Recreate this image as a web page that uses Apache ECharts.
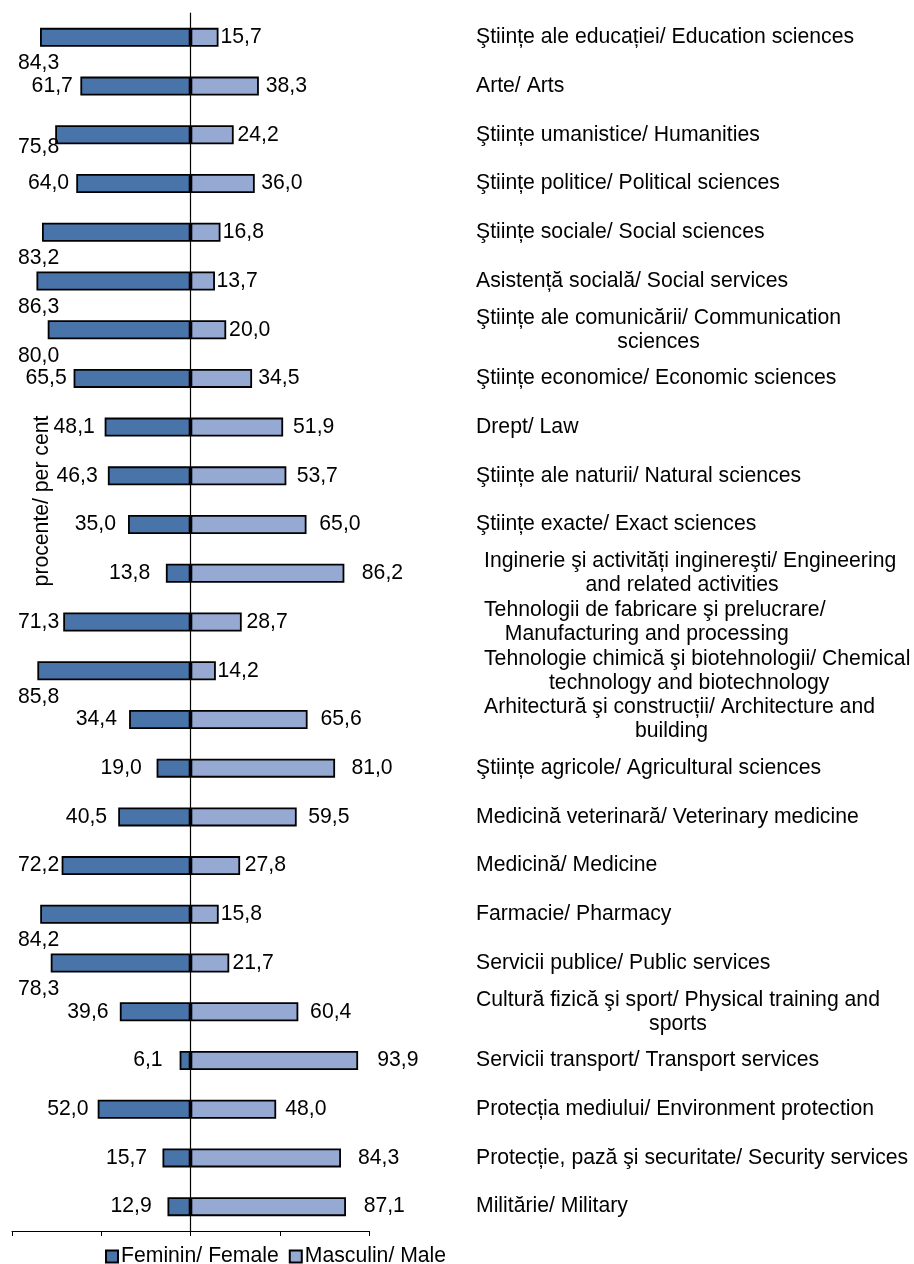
<!DOCTYPE html>
<html><head><meta charset="utf-8">
<script src="https://cdn.jsdelivr.net/npm/echarts@6/dist/echarts.min.js"></script>
<style>html,body{margin:0;padding:0;background:#fff}#c{width:914px;height:1264px}</style>
</head><body><div id="c"></div>
<script>
const categories = [
  'Ştiințe ale educației/ Education sciences',
  'Arte/ Arts',
  'Ştiințe umanistice/ Humanities',
  'Ştiințe politice/ Political sciences',
  'Ştiințe sociale/ Social sciences',
  'Asistență socială/ Social services',
  'Ştiințe ale comunicării/ Communication\nsciences',
  'Ştiințe economice/ Economic sciences',
  'Drept/ Law',
  'Ştiințe ale naturii/ Natural sciences',
  'Ştiințe exacte/ Exact sciences',
  'Inginerie şi activități inginereşti/ Engineering\nand related activities',
  'Tehnologii de fabricare şi prelucrare/\nManufacturing and processing',
  'Tehnologie chimică şi biotehnologii/ Chemical\ntechnology and biotechnology',
  'Arhitectură şi construcții/ Architecture and\nbuilding',
  'Ştiințe agricole/ Agricultural sciences',
  'Medicină veterinară/ Veterinary medicine',
  'Medicină/ Medicine',
  'Farmacie/ Pharmacy',
  'Servicii publice/ Public services',
  'Cultură fizică şi sport/ Physical training and\nsports',
  'Servicii transport/ Transport services',
  'Protecția mediului/ Environment protection',
  'Protecție, pază şi securitate/ Security services',
  'Militărie/ Military'
];
const female = [84.3, 61.7, 75.8, 64.0, 83.2, 86.3, 80.0, 65.5, 48.1, 46.3, 35.0, 13.8, 71.3, 85.8, 34.4, 19.0, 40.5, 72.2, 84.2, 78.3, 39.6, 6.1, 52.0, 15.7, 12.9];
const male   = [15.7, 38.3, 24.2, 36.0, 16.8, 13.7, 20.0, 34.5, 51.9, 53.7, 65.0, 86.2, 28.7, 14.2, 65.6, 81.0, 59.5, 27.8, 15.8, 21.7, 60.4, 93.9, 48.0, 84.3, 87.1];
const seriesNames = ['Feminin/ Female', 'Masculin/ Male'];
const axisName = 'procente/ per cent';
const xMin = -100, xMax = 100, xInterval = 50;

// style only: rows whose two-line label block sits a bit further right
const shiftedLabelRows = [11, 12, 13, 14];

const FONT = '"Liberation Sans", Arial, sans-serif';
const FS = 21.2;
const fmt = v => v.toFixed(1).replace('.', ',');
const mctx = document.createElement('canvas').getContext('2d');
mctx.font = FS + 'px "Liberation Sans"';
const tw = s => mctx.measureText(s).width;

const chart = echarts.init(document.getElementById('c'), null, {renderer: 'canvas'});
const txt = {fontFamily: FONT, fontSize: FS, color: '#000'};

const option = {
  animation: false,
  grid: {left: 12, right: 545, top: 13, bottom: 33},
  xAxis: {
    type: 'value', min: xMin, max: xMax, interval: xInterval,
    axisLine: {show: true, onZero: false, lineStyle: {color: '#000', width: 1}},
    axisTick: {show: true, length: 5, lineStyle: {color: '#000', width: 1}},
    axisLabel: {show: false}, splitLine: {show: false}
  },
  yAxis: {
    type: 'category', inverse: true, data: categories,
    axisLine: {show: true, onZero: true, lineStyle: {color: '#000', width: 1.2}},
    axisTick: {show: false}, axisLabel: {show: false}
  },
  legend: {
    left: 100, top: 1241, itemWidth: 12, itemHeight: 12, itemGap: 10, icon: 'rect',
    textStyle: Object.assign({}, txt, {padding: [0, 0, 0, -2]})
  },
  series: [
    {name: seriesNames[0], type: 'bar', barWidth: 19, barGap: '-100%',
     itemStyle: {color: '#4874A9', borderColor: '#000', borderWidth: 1.8},
     data: female.map(v => -v)},
    {name: seriesNames[1], type: 'bar', barWidth: 19,
     itemStyle: {color: '#95A9D2', borderColor: '#000', borderWidth: 1.8},
     data: male}
  ]
};
chart.setOption(option);

// label layout
const fData = female.map((v, i) => {
  const barLeft = chart.convertToPixel({xAxisIndex: 0}, -v);
  const s = fmt(v);
  const w = tw(s);
  const d = 18 - 0.17 * v;
  let dx = 0, dy = 0;
  const left = barLeft - d - w;
  if (left < 18) dx = 18 - left;
  if (v >= 77) dy = 26; else if (v >= 74) dy = 12;
  return {value: -v, label: {show: true, position: 'left', distance: d, offset: [dx, dy], formatter: s,
    fontFamily: FONT, fontSize: FS, color: '#000'}};
});
const mData = male.map(v => ({value: v, label: {show: true, position: 'right', distance: Math.max(1, 0.22 * v - 1.5),
  formatter: fmt(v), fontFamily: FONT, fontSize: FS, color: '#000'}}));

const graphics = [];
categories.forEach((c, i) => {
  const y = chart.convertToPixel({yAxisIndex: 0}, i);
  const lines = c.split('\n');
  const font = FS + 'px ' + FONT;
  if (lines.length === 1) {
    graphics.push({type: 'text', x: 476, y: y, style: {text: c, font: font, fill: '#000',
      textAlign: 'left', textVerticalAlign: 'middle'}});
    return;
  }
  const shifted = shiftedLabelRows.indexOf(i) >= 0;
  const x1 = shifted ? 484 : 476;
  const c1 = x1 + tw(lines[0]) / 2;
  const c2 = shifted ? c1 - 8 : c1;
  graphics.push({type: 'text', x: x1, y: y - 12, style: {text: lines[0], font: font, fill: '#000',
    textAlign: 'left', textVerticalAlign: 'middle'}});
  graphics.push({type: 'text', x: c2, y: y + 12, style: {text: lines[1], font: font, fill: '#000',
    textAlign: 'center', textVerticalAlign: 'middle'}});
});
graphics.push({type: 'text', x: 42, y: 501, rotation: Math.PI / 2,
  style: {text: axisName, font: FS + 'px ' + FONT, fill: '#000', textAlign: 'center', textVerticalAlign: 'middle'}});

chart.setOption({
  series: [{data: fData}, {data: mData}],
  graphic: graphics
});
</script></body></html>
